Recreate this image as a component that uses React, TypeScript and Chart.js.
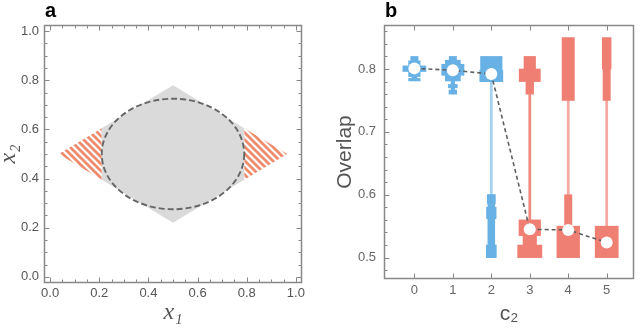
import React, { useEffect, useRef } from 'react';
import { Chart, registerables } from 'chart.js';

Chart.register(...registerables);

// ---------- Panel a data ----------
const grayRegionX = [0.21, 0.21, 0.5, 0.79, 0.79, 0.5, 0.21];
const grayRegionY = [0.395, 0.605, 0.78, 0.605, 0.395, 0.22, 0.395];
const leftHatchX = [0.035, 0.21, 0.21, 0.035];
const leftHatchY = [0.5, 0.605, 0.395, 0.5];
const rightHatchX = [0.965, 0.79, 0.79, 0.965];
const rightHatchY = [0.5, 0.605, 0.395, 0.5];
const ellipseCenter = [0.5, 0.5];
const ellipseRadii = [0.29, 0.225];

// ---------- Panel b data ----------
const c2Values = [0, 1, 2, 3, 4, 5];
const medianOverlap = [0.801, 0.798, 0.792, 0.545, 0.544, 0.524];
// distribution blocks per c2: [low, high, relative width]
const blocksC0 = [[0.813, 0.82, 0.19], [0.788, 0.813, 0.3], [0.796, 0.805, 0.6], [0.785, 0.788, 0.13], [0.781, 0.785, 0.3]];
const blocksC1 = [[0.814, 0.82, 0.19], [0.8075, 0.814, 0.39], [0.79, 0.8075, 0.58], [0.781, 0.79, 0.39], [0.7665, 0.781, 0.09], [0.77, 0.7755, 0.23], [0.76, 0.7665, 0.2]];
const blocksC2 = [[0.78, 0.82, 0.56], [0.78, 0.798, 0.6], [0.5, 0.6, 0.18], [0.586, 0.6, 0.21], [0.562, 0.58, 0.25], [0.5, 0.52, 0.26]];
const blocksC3 = [[0.8, 0.82, 0.3], [0.78, 0.8, 0.55], [0.76, 0.78, 0.2], [0.535, 0.56, 0.56], [0.52, 0.535, 0.35], [0.5, 0.52, 0.63]];
const blocksC4 = [[0.75, 0.85, 0.32], [0.55, 0.6, 0.19], [0.5, 0.55, 0.59]];
const blocksC5 = [[0.8, 0.85, 0.23], [0.75, 0.8, 0.19], [0.5, 0.55, 0.6]];
const tailLow = [null, null, 0.6, 0.56, 0.6, 0.55];
const tailHigh = [null, null, 0.78, 0.76, 0.75, 0.75];
const tailWidth = 0.055;

const BLUE = '#68b1e5';
const RED = '#ef7e73';
const TAIL_COLORS = ['#a6d1f1', '#a6d1f1', '#a6d1f1', '#ef8c82', '#f4aaa2', '#f4aaa2'];
const FRAME = '#888888';
const TXT = '#555555';

function marks(min: number, max: number, major: number, minor: number) {
  const step = minor || major;
  const out: [number, boolean][] = [];
  const k0 = Math.ceil(min / step - 1e-9);
  const k1 = Math.floor(max / step + 1e-9);
  for (let k = k0; k <= k1; k++) {
    const v = k * step;
    const r = v / major;
    out.push([v, Math.abs(r - Math.round(r)) < 1e-6]);
  }
  return out;
}

function framePlugin(spec: any) {
  return {
    id: 'frameTicks',
    afterDraw(chart: any) {
      const { ctx, chartArea } = chart;
      const xs = chart.scales.x;
      const ys = chart.scales.y;
      const L = Math.round(chartArea.left) + 0.5;
      const R = Math.round(chartArea.right) - 0.5;
      const T = Math.round(chartArea.top) + 0.5;
      const B = Math.round(chartArea.bottom) - 0.5;
      ctx.save();
      ctx.strokeStyle = FRAME;
      ctx.lineWidth = 1;
      ctx.beginPath();
      for (const [v, maj] of marks(xs.min, xs.max, spec.xMajor, spec.xMinor)) {
        const px = Math.round(xs.getPixelForValue(v)) + 0.5;
        const len = maj ? spec.majorLen : spec.minorLen;
        if (spec.xSides.includes('bottom')) { ctx.moveTo(px, B); ctx.lineTo(px, B - len); }
        if (spec.xSides.includes('top')) { ctx.moveTo(px, T); ctx.lineTo(px, T + len); }
      }
      for (const [v, maj] of marks(ys.min, ys.max, spec.yMajor, spec.yMinor)) {
        const py = Math.round(ys.getPixelForValue(v)) + 0.5;
        const len = maj ? spec.majorLen : spec.minorLen;
        if (spec.ySides.includes('left')) { ctx.moveTo(L, py); ctx.lineTo(L + len, py); }
        if (spec.ySides.includes('right')) { ctx.moveTo(R, py); ctx.lineTo(R - len, py); }
      }
      ctx.stroke();
      ctx.lineWidth = 1.5;
      ctx.strokeRect(L, T, R - L, B - T);
      ctx.restore();
    },
  };
}

const ellipsePlugin = {
  id: 'dashedEllipse',
  afterDatasetsDraw(chart: any) {
    const { ctx } = chart;
    const xs = chart.scales.x;
    const ys = chart.scales.y;
    const cx = xs.getPixelForValue(ellipseCenter[0]);
    const cy = ys.getPixelForValue(ellipseCenter[1]);
    const rx = xs.getPixelForValue(ellipseCenter[0] + ellipseRadii[0]) - cx;
    const ry = cy - ys.getPixelForValue(ellipseCenter[1] + ellipseRadii[1]);
    ctx.save();
    ctx.setLineDash([6, 3]);
    ctx.strokeStyle = '#666666';
    ctx.lineWidth = 1.9;
    ctx.beginPath();
    ctx.ellipse(cx, cy, rx, ry, 0, 0, Math.PI * 2);
    ctx.stroke();
    ctx.restore();
  },
};

const pts = (xs: number[], ys: number[]) => xs.map((x, i) => ({ x, y: ys[i] }));

function makeHatch() {
  const s = 7;
  const p = document.createElement('canvas');
  p.width = s;
  p.height = s;
  const c = p.getContext('2d')!;
  c.fillStyle = '#ffffff';
  c.fillRect(0, 0, s, s);
  c.strokeStyle = '#ef8a6b';
  c.lineWidth = 2.7;
  for (const off of [-s, 0, s]) {
    c.beginPath();
    c.moveTo(off - 1, -1);
    c.lineTo(off + s + 1, s + 1);
    c.stroke();
  }
  return c.createPattern(p, 'repeat');
}

export default function App() {
  const refA = useRef<HTMLCanvasElement>(null);
  const refB = useRef<HTMLCanvasElement>(null);

  useEffect(() => {
    Chart.defaults.font.family = "'Liberation Sans', Arial, sans-serif";
    const hatch = makeHatch();
    const polyDs = (data: any, bg: any) => ({
      data,
      backgroundColor: bg,
      borderColor: 'transparent',
      borderWidth: 0,
      pointRadius: 0,
      fill: 'shape',
      tension: 0,
    });

    const chartA = new Chart(refA.current!, {
      type: 'line',
      data: {
        datasets: [
          polyDs(pts(grayRegionX, grayRegionY), '#dadada'),
          polyDs(pts(leftHatchX, leftHatchY), hatch),
          polyDs(pts(rightHatchX, rightHatchY), hatch),
        ] as any,
      },
      options: {
        responsive: false,
        animation: false,
        events: [],
        layout: { padding: { top: 25, right: 18, left: 0, bottom: 0 } },
        plugins: { legend: { display: false }, tooltip: { enabled: false } },
        scales: {
          x: {
            type: 'linear', min: -0.025, max: 1.025,
            afterFit: (s: any) => { s.height = 45; },
            grid: { display: false, drawTicks: false },
            border: { display: false },
            ticks: { stepSize: 0.2, includeBounds: false, autoSkip: false, maxRotation: 0, padding: 3, color: TXT, font: { size: 13 }, callback: (v: any) => Number(v).toFixed(1) },
            title: { display: true, text: 'x₁', color: TXT, padding: 1, font: { family: "'Liberation Serif', serif", style: 'italic', size: 24, lineHeight: 1.2 } },
          },
          y: {
            type: 'linear', min: -0.025, max: 1.025,
            afterFit: (s: any) => { s.width = 44; },
            grid: { display: false, drawTicks: false },
            border: { display: false },
            ticks: { stepSize: 0.2, includeBounds: false, autoSkip: false, padding: 5, color: TXT, font: { size: 13 }, callback: (v: any) => Number(v).toFixed(1) },
            title: { display: true, text: 'x₂', color: TXT, padding: 0, font: { family: "'Liberation Serif', serif", style: 'italic', size: 24, lineHeight: 0.75 } },
          },
        },
      } as any,
      plugins: [framePlugin({ xMajor: 0.2, xMinor: 0.05, yMajor: 0.2, yMinor: 0.05, xSides: ['bottom', 'top'], ySides: ['left', 'right'], majorLen: 5, minorLen: 3 }), ellipsePlugin],
    });

    // Panel b
    const allBlocks = [blocksC0, blocksC1, blocksC2, blocksC3, blocksC4, blocksC5];
    const datasets: any[] = [];
    const widths: (number | null)[] = [];
    c2Values.forEach((c, i) => {
      if (tailLow[i] != null) {
        datasets.push({ type: 'bar', data: [{ x: c, y: [tailLow[i], tailHigh[i]] }], backgroundColor: TAIL_COLORS[i], borderWidth: 0, grouped: false, barThickness: 2, order: 3 });
        widths.push(tailWidth);
      }
    });
    allBlocks.forEach((list, i) => {
      list.forEach(([lo, hi, w]) => {
        datasets.push({ type: 'bar', data: [{ x: c2Values[i], y: [lo, hi] }], backgroundColor: i <= 2 ? BLUE : RED, borderWidth: 0, grouped: false, barThickness: 10, order: 2 });
        widths.push(w);
      });
    });
    datasets.push({
      type: 'line',
      data: pts(c2Values, medianOverlap),
      borderColor: '#5f5f5f',
      borderWidth: 1.6,
      borderDash: [4, 3],
      pointRadius: 6,
      pointBackgroundColor: '#ffffff',
      pointBorderWidth: 0,
      pointBorderColor: 'transparent',
      fill: false,
      tension: 0,
      order: 0,
    });
    widths.push(null);

    const chartB = new Chart(refB.current!, {
      type: 'bar',
      data: { datasets },
      options: {
        responsive: false,
        animation: false,
        events: [],
        layout: { padding: { top: 25, right: 5, left: 0, bottom: 0 } },
        plugins: { legend: { display: false }, tooltip: { enabled: false } },
        scales: {
          x: {
            type: 'linear', min: -0.79, max: 5.71, offset: false,
            afterFit: (s: any) => { s.height = 49; },
            grid: { display: false, drawTicks: false },
            border: { display: false },
            ticks: { stepSize: 1, includeBounds: false, autoSkip: false, maxRotation: 0, padding: 4, color: '#666', font: { size: 13 }, callback: (v: any) => String(Math.round(Number(v))) },
            title: { display: true, text: 'c₂', color: TXT, padding: 1, font: { size: 21, lineHeight: 1.2 } },
          },
          y: {
            type: 'linear', min: 0.466, max: 0.87,
            afterFit: (s: any) => { s.width = 64; },
            grid: { display: false, drawTicks: false },
            border: { display: false },
            ticks: { stepSize: 0.1, includeBounds: false, autoSkip: false, padding: 8, color: '#666', font: { size: 13 }, callback: (v: any) => Number(v).toFixed(1) },
            title: { display: true, text: 'Overlap', color: TXT, padding: { top: 13, bottom: 0 }, font: { size: 21, lineHeight: 1.2 } },
          },
        },
      } as any,
      plugins: [framePlugin({ xMajor: 1, xMinor: 0, yMajor: 0.1, yMinor: 0.02, xSides: ['bottom', 'top'], ySides: ['left'], majorLen: 5, minorLen: 3 })],
    });

    const xs: any = chartB.scales.x;
    const ppu = xs.getPixelForValue(1) - xs.getPixelForValue(0);
    chartB.data.datasets.forEach((d: any, i: number) => {
      const w = widths[i];
      if (w != null) d.barThickness = w * ppu;
    });
    chartB.update('none');

    return () => {
      chartA.destroy();
      chartB.destroy();
    };
  }, []);

  const label: React.CSSProperties = {
    position: 'absolute', top: 0, fontFamily: "'Liberation Sans', Arial, sans-serif",
    fontWeight: 'bold', fontSize: 20, lineHeight: '20px', color: '#000',
  };

  return (
    <div style={{ position: 'fixed', left: 0, top: 0, width: 640, height: 328, background: '#fff', overflow: 'hidden' }}>
      <canvas ref={refA} width={320} height={328} style={{ position: 'absolute', left: 0, top: 0, width: 320, height: 328 }} />
      <canvas ref={refB} width={320} height={328} style={{ position: 'absolute', left: 320, top: 0, width: 320, height: 328 }} />
      <div style={{ ...label, left: 45 }}>a</div>
      <div style={{ ...label, left: 385 }}>b</div>
    </div>
  );
}
